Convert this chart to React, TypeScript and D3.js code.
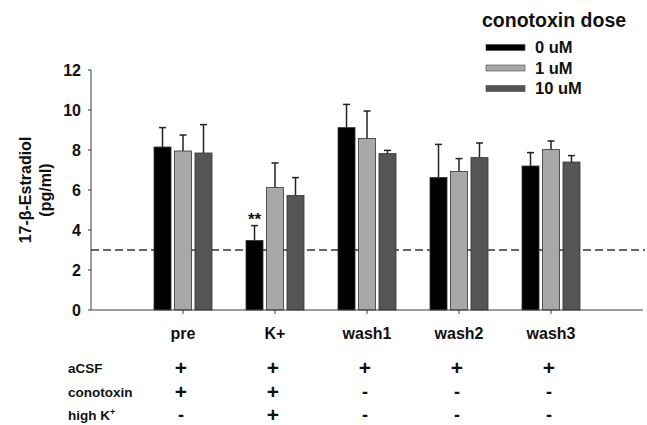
import React from "react";
import * as d3 from "d3";

// Chart data
const categories = ["pre", "K+", "wash1", "wash2", "wash3"];
const doses = ["0 uM", "1 uM", "10 uM"];
const doseColors = ["#000000", "#a8a8a8", "#555555"];

const mean0uM = [8.15, 3.48, 9.12, 6.63, 7.2];
const mean1uM = [7.95, 6.12, 8.58, 6.93, 8.02];
const mean10uM = [7.85, 5.73, 7.82, 7.62, 7.4];

const sem0uM = [0.97, 0.74, 1.16, 1.65, 0.67];
const sem1uM = [0.8, 1.23, 1.37, 0.64, 0.43];
const sem10uM = [1.42, 0.89, 0.16, 0.73, 0.32];

const yTicks = [0, 2, 4, 6, 8, 10, 12];
const baseline = 3;

const conditionRows = ["aCSF", "conotoxin", "high K"];
const aCSF = ["+", "+", "+", "+", "+"];
const conotoxin = ["+", "+", "-", "-", "-"];
const highK = ["-", "+", "-", "-", "-"];

const WIDTH = 647;
const HEIGHT = 425;
const FONT = "'Liberation Sans', Arial, Helvetica, sans-serif";

const App: React.FC = () => {
  const means = [mean0uM, mean1uM, mean10uM];
  const sems = [sem0uM, sem1uM, sem10uM];
  const conditions = [aCSF, conotoxin, highK];

  const x = d3.scalePoint<string>().domain(categories).range([91, 643]).padding(1);
  const xDose = d3.scaleBand<string>().domain(doses).range([-29, 29]).paddingInner(0.17);
  const y = d3.scaleLinear().domain([0, 12]).range([310, 70]);

  const axisColor = "#3a3a3a";
  const rowY = [368, 392, 415];

  return (
    <svg
      width={WIDTH}
      height={HEIGHT}
      style={{ position: "absolute", left: 0, top: 0, background: "#fff" }}
      fontFamily={FONT}
      fontWeight="bold"
    >
      {/* y axis */}
      <line x1={91} x2={91} y1={y(12)} y2={y(0)} stroke={axisColor} strokeWidth={1} />
      {yTicks.map((t) => (
        <g key={t}>
          <line x1={88} x2={91} y1={y(t)} y2={y(t)} stroke={axisColor} />
          <text x={81} y={y(t)} dy="0.35em" textAnchor="end" fontSize={16} fill="#111">
            {t}
          </text>
        </g>
      ))}
      <text
        transform={`translate(25,${y(6)}) rotate(-90)`}
        textAnchor="middle"
        dy="0.35em"
        fontSize={16}
        fill="#111"
      >
        17-β-Estradiol
      </text>
      <text
        transform={`translate(45,${y(6)}) rotate(-90)`}
        textAnchor="middle"
        dy="0.35em"
        fontSize={16}
        fill="#111"
      >
        (pg/ml)
      </text>

      {/* dashed baseline */}
      <line
        x1={91}
        x2={645}
        y1={y(baseline)}
        y2={y(baseline)}
        stroke="#333"
        strokeWidth={1.3}
        strokeDasharray="8,4"
      />

      {/* bars */}
      {categories.map((c, ci) => (
        <g key={c} transform={`translate(${x(c)},0)`}>
          {doses.map((d, di) => {
            const bx = xDose(d)!;
            const bw = xDose.bandwidth();
            const m = means[di][ci];
            const top = y(m + sems[di][ci]);
            const cx = bx + bw / 2;
            return (
              <g key={d}>
                <line x1={cx} x2={cx} y1={y(m)} y2={top} stroke="#222" strokeWidth={1.5} />
                <line x1={cx - 3.5} x2={cx + 3.5} y1={top} y2={top} stroke="#222" strokeWidth={1.5} />
                <rect
                  x={bx}
                  y={y(m)}
                  width={bw}
                  height={y(0) - y(m)}
                  fill={doseColors[di]}
                  stroke="#333"
                  strokeWidth={0.8}
                />
              </g>
            );
          })}
        </g>
      ))}

      {/* significance mark */}
      <text
        x={x("K+")! + xDose("0 uM")! + xDose.bandwidth() / 2}
        y={y(mean0uM[1] + sem0uM[1]) - 1}
        textAnchor="middle"
        fontSize={17}
        fill="#111"
      >
        **
      </text>

      {/* x axis */}
      <line x1={91} x2={643} y1={y(0)} y2={y(0)} stroke={axisColor} strokeWidth={1} />
      {categories.map((c) => (
        <g key={c}>
          <line x1={x(c)} x2={x(c)} y1={y(0)} y2={y(0) + 4} stroke={axisColor} />
          <text x={x(c)} y={333} dy="0.35em" textAnchor="middle" fontSize={16} fill="#111">
            {c}
          </text>
        </g>
      ))}

      {/* condition table */}
      {conditionRows.map((r, ri) => (
        <g key={r}>
          <text x={68} y={rowY[ri]} dy="0.35em" fontSize={13.5} fill="#111">
            {r}
            {ri === 2 && (
              <tspan dy="-5" fontSize={9}>
                +
              </tspan>
            )}
          </text>
          {conditions[ri].map((s, ci) => (
            <text
              key={ci}
              x={x(categories[ci])! - 2}
              y={rowY[ri]}
              dy="0.35em"
              textAnchor="middle"
              fontSize={s === "+" ? 21 : 18}
              fill="#111"
            >
              {s}
            </text>
          ))}
        </g>
      ))}

      {/* legend */}
      <text x={482} y={20} dy="0.35em" fontSize={19.5} fill="#111">
        conotoxin dose
      </text>
      {doses.map((d, di) => (
        <g key={d} transform={`translate(486,${47.5 + di * 20.5})`}>
          <rect x={0} y={-3} width={39} height={6} fill={doseColors[di]} stroke="#444" strokeWidth={0.6} />
          <text x={49} y={0} dy="0.35em" fontSize={16.5} fill="#111">
            {d}
          </text>
        </g>
      ))}
    </svg>
  );
};

export default App;
